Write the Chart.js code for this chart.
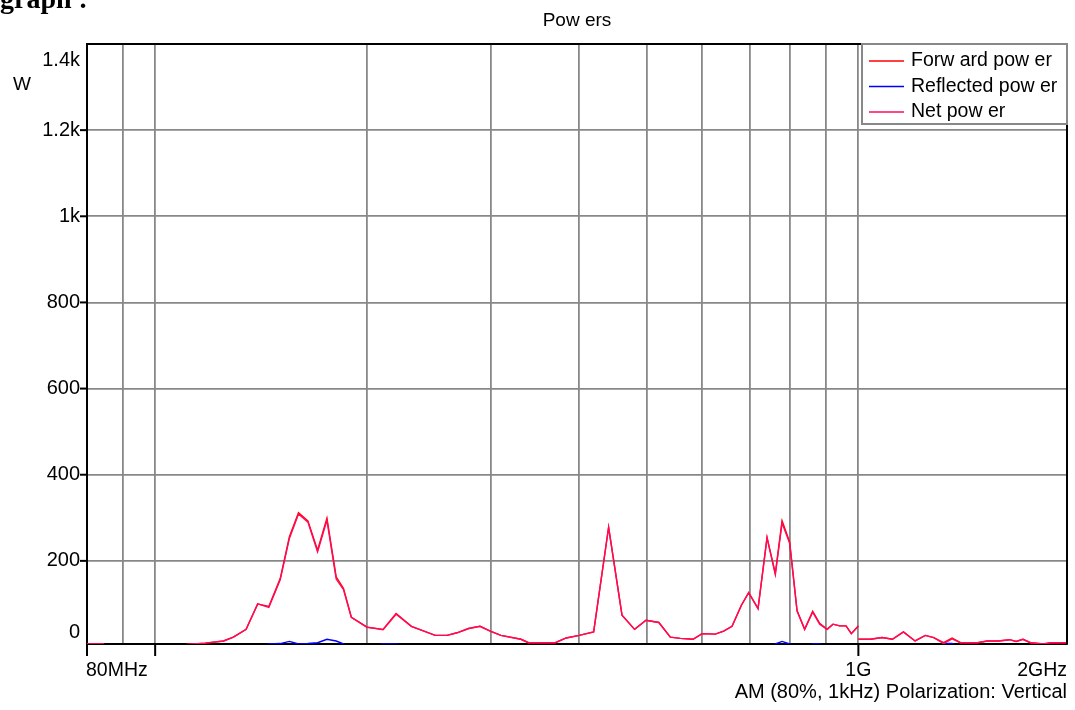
<!DOCTYPE html>
<html>
<head>
<meta charset="utf-8">
<title>Powers</title>
<script src="https://cdn.jsdelivr.net/npm/chart.js@4/dist/chart.umd.min.js"></script>
<style>
  html, body { margin: 0; padding: 0; background: #fff; }
  #wrap { position: relative; width: 1075px; height: 710px; overflow: hidden; }
  #heading { position: absolute; left: 0; top: -17px; font: bold 28px "Liberation Serif", "Times New Roman", serif; color: #000; white-space: pre; }
  canvas { position: absolute; left: 0; top: 0; }
</style>
</head>
<body>
<div id="wrap">
  <canvas id="powers" width="1075" height="710"></canvas>
  <div id="heading">graph :</div>
</div>
<script>
// Sweep frequencies in MHz; the 1 GHz point appears twice because the
// measurement is split into two bands (80 MHz-1 GHz and 1-2 GHz).
const freqMHz = [80, 84.3, 86.3, 108.5, 110.9, 117.8, 125.1, 129.2, 134.7, 139.9,
  145.1, 150.6, 155.2, 159.9, 164.9, 170.2, 175.5, 180.9, 185.3, 190.1,
  200.1, 210.9, 220.1, 231.4, 250.2, 260.0, 268.7, 279.1, 289.7, 299.6,
  310.2, 331.3, 339.6, 370.7, 384.2, 400.9, 420.3, 441.4, 461.2, 480.6,
  498.9, 520.3, 540.3, 558.2, 582.0, 599.4, 626.0, 643.3, 661.2, 681.8,
  698.2, 720.0, 741.5, 761.9, 778.9, 798.5, 818.1, 838.7, 861.0, 881.0,
  902.6, 920.4, 940.6, 960.5, 977.2, 1000, 1000, 1000, 1040, 1081,
  1118, 1159, 1204, 1245, 1280, 1322, 1359, 1397, 1477, 1525,
  1582, 1641, 1676, 1714, 1757, 1835, 1875, 1980];

// Powers in W (null marks the break between the two bands)
const forwardW = [7, 7, 0, 0, 6, 9, 14, 23, 41, 100,
  94, 159, 256, 312, 293, 225, 299, 163, 136, 69,
  46, 41, 78, 48, 27, 27, 33, 43, 48, 37,
  27, 18, 10, 10, 21, 27, 35, 278, 74, 41,
  62, 57, 23, 20, 18, 31, 30, 37, 48, 97,
  126, 89, 254, 171, 293, 244, 84, 41, 83, 55,
  41, 53, 49, 49, 31, 49, null, 18, 18, 22,
  18, 35, 14, 27, 22, 10, 21, 10, 10, 14,
  14, 17, 13, 18, 10, 7, 10, 10];

const reflectedW = [0, 0, 0, 0, 0, 0, 0, 0, 0, 0,
  7, 8, 13, 7, 8, 10, 18, 14, 7, 0,
  0, 7, 7, 0, 0, 0, 0, 0, 0, 0,
  0, 0, 0, 0, 0, 0, 0, 0, 0, 0,
  0, 0, 0, 0, 0, 0, 0, 0, 0, 0,
  0, 0, 0, 7, 13, 7, 0, 0, 7, 7,
  0, 0, 0, 0, 0, 0, null, 0, 0, 0,
  0, 0, 0, 0, 0, 8, 8, 0, 0, 0,
  0, 0, 0, 0, 0, 0, 0, 0];

const netW = [7, 7, 0, 0, 6, 9, 14, 23, 41, 100,
  92, 156, 252, 309, 290, 221, 294, 158, 133, 69,
  46, 40, 76, 48, 27, 27, 33, 43, 48, 37,
  27, 18, 10, 10, 21, 27, 35, 278, 74, 41,
  62, 57, 23, 20, 18, 31, 30, 37, 48, 97,
  126, 89, 254, 168, 288, 241, 84, 41, 81, 53,
  41, 53, 49, 49, 31, 49, null, 18, 18, 22,
  18, 35, 14, 27, 22, 8, 19, 10, 10, 14,
  14, 17, 13, 18, 10, 7, 10, 10];

const seriesNames = ['Forw ard pow er', 'Reflected pow er', 'Net pow er'];
const seriesColors = ['#ff0000', '#0000ff', '#ff0a5a'];

const yTickValues = [0, 200, 400, 600, 800, 1000, 1200, 1400];
const yTickLabels = ['0', '200', '400', '600', '800', '1k', '1.2k', '1.4k'];
const xGridMHz = [90, 100, 200, 300, 400, 500, 600, 700, 800, 900, 1000];
const xTickMarkMHz = [80, 100, 1000];
const xLabelMHz = [80, 1000, 1980];
const xLabelText = ['80MHz', '1G', '2GHz'];

const titleText = 'Pow ers';
const unitText = 'W';
const footerText = 'AM (80%, 1kHz) Polarization: Vertical';

const FONT = '"Liberation Sans", Arial, Helvetica, sans-serif';

function points(values) {
  return freqMHz.map((f, i) => ({ x: f, y: values[i] }));
}

// Frame, tick marks, axis texts and the boxed legend
const decorations = {
  id: 'decorations',
  afterDatasetsDraw(chart) {
    const { ctx, chartArea: a } = chart;
    ctx.save();
    ctx.strokeStyle = '#000';
    ctx.lineWidth = 2;
    ctx.beginPath();
    ctx.moveTo(a.left, a.top); ctx.lineTo(a.right, a.top); ctx.lineTo(a.right, a.bottom);
    ctx.stroke();
    ctx.restore();
  },
  afterDraw(chart) {
    const { ctx, chartArea: a, scales } = chart;
    const xs = scales.x, ys = scales.y;
    ctx.save();
    ctx.fillStyle = '#000';
    ctx.strokeStyle = '#000';
    ctx.lineWidth = 2;

    // y tick marks and labels
    ctx.font = '20px ' + FONT;
    ctx.textAlign = 'right';
    ctx.textBaseline = 'middle';
    yTickValues.forEach((v, i) => {
      const p = ys.getPixelForValue(v);
      if (v > 0 && v < 1400) {
        ctx.beginPath(); ctx.moveTo(a.left - 7, p); ctx.lineTo(a.left, p); ctx.stroke();
      }
      const ly = Math.min(Math.max(p, a.top + 16), a.bottom - 12);
      ctx.fillText(yTickLabels[i], a.left - 7, ly);
    });

    // x tick marks and labels
    xTickMarkMHz.forEach(f => {
      const p = xs.getPixelForValue(f);
      ctx.beginPath(); ctx.moveTo(p, a.bottom); ctx.lineTo(p, a.bottom + 12); ctx.stroke();
    });
    ctx.font = '19.5px ' + FONT;
    xLabelMHz.forEach((f, i) => {
      const p = xs.getPixelForValue(f);
      ctx.textAlign = i === 0 ? 'left' : (i === xLabelMHz.length - 1 ? 'right' : 'center');
      ctx.fillText(xLabelText[i], i === 0 ? p - 1 : p, a.bottom + 27);
    });

    // title, unit and measurement note
    ctx.font = '19px ' + FONT;
    ctx.textAlign = 'center';
    ctx.fillText(titleText, (a.left + a.right) / 2, 21);
    ctx.fillText(unitText, 22, 85);
    ctx.font = '20px ' + FONT;
    ctx.textAlign = 'right';
    ctx.fillText(footerText, a.right, 692);

    // legend box in the upper right corner
    const bx = 862, by = a.top, bw = a.right - 862, bh = 80;
    ctx.fillStyle = '#fff';
    ctx.fillRect(bx, by, bw, bh);
    ctx.strokeStyle = '#888';
    ctx.lineWidth = 2;
    ctx.strokeRect(bx, by, bw, bh);
    ctx.font = '19.5px ' + FONT;
    ctx.textAlign = 'left';
    chart.data.datasets.forEach((ds, i) => {
      const ry = by + 17 + i * 25.5;
      ctx.strokeStyle = ds.borderColor;
      ctx.lineWidth = 1.3;
      ctx.beginPath(); ctx.moveTo(869, ry); ctx.lineTo(904, ry); ctx.stroke();
      ctx.fillStyle = '#000';
      ctx.fillText(ds.label, 911, ry);
    });
    ctx.restore();
  }
};

new Chart(document.getElementById('powers'), {
  type: 'line',
  data: {
    datasets: [
      { label: seriesNames[0], data: points(forwardW), borderColor: seriesColors[0], order: 3 },
      { label: seriesNames[1], data: points(reflectedW), borderColor: seriesColors[1], order: 2 },
      { label: seriesNames[2], data: points(netW), borderColor: seriesColors[2], order: 1 }
    ]
  },
  options: {
    responsive: false,
    animation: false,
    devicePixelRatio: 1,
    spanGaps: false,
    layout: { padding: { left: 87, right: 8, top: 44, bottom: 66 } },
    elements: {
      line: { borderWidth: 1.4, tension: 0, fill: false },
      point: { radius: 0, hoverRadius: 0 }
    },
    plugins: { legend: { display: false }, title: { display: false }, tooltip: { enabled: false } },
    events: [],
    scales: {
      x: {
        type: 'logarithmic',
        min: 80,
        max: 1980,
        afterBuildTicks(scale) { scale.ticks = xGridMHz.map(v => ({ value: v })); },
        afterFit(scale) { scale.height = 0; },
        ticks: { display: false },
        grid: { color: '#888888', lineWidth: 1.8, drawTicks: false },
        border: { display: true, color: '#000', width: 2 }
      },
      y: {
        type: 'linear',
        min: 7,
        max: 1400,
        afterBuildTicks(scale) { scale.ticks = yTickValues.filter(v => v > 0 && v < 1400).map(v => ({ value: v })); },
        afterFit(scale) { scale.width = 0; },
        ticks: { display: false },
        grid: { color: '#888888', lineWidth: 1.8, drawTicks: false },
        border: { display: true, color: '#000', width: 2 }
      }
    }
  },
  plugins: [decorations]
});
</script>
</body>
</html>
